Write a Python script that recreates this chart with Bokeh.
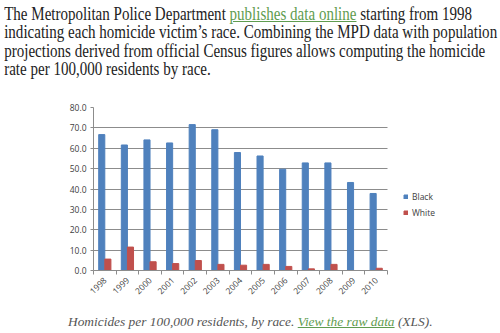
import numpy as np
from bokeh.plotting import figure
from bokeh.models import (Range1d, FixedTicker, Div, Legend, LegendItem, ColumnDataSource,
                          NumeralTickFormatter, Grid)
from bokeh.layouts import column
from bokeh.transform import dodge
from bokeh.embed import file_html
from bokeh.resources import INLINE

years = ["1998", "1999", "2000", "2001", "2002", "2003", "2004",
         "2005", "2006", "2007", "2008", "2009", "2010"]
black = [66.7, 61.6, 64.1, 62.6, 71.6, 69.1, 57.9, 56.2, 49.7, 52.8, 52.8, 43.2, 37.8]
white = [5.6, 11.5, 4.3, 3.4, 4.9, 3.0, 2.6, 3.0, 2.0, 0.8, 3.0, 0.0, 1.1]
y_ticks = [0, 10, 20, 30, 40, 50, 60, 70, 80]

BLUE = "#4F81BD"
RED = "#C0504D"
GRID = "#8c8c8c"
LINK = "#5f9c4f"
CHART_FONT = "Open Sans"
SERIF = "'Liberation Serif', serif"

n = len(years)
pos = np.arange(n) + 0.5
src = ColumnDataSource(dict(x=pos, year=years, black=black, white=white))

intro = Div(
    text=(
        f'<div style="font-family:{SERIF};font-size:18px;line-height:18.4px;'
        'color:#222;padding:5px 0 0 5px;white-space:nowrap;'
        'transform:scaleX(0.835);transform-origin:0 0;">'
        'The Metropolitan Police Department '
        f'<span style="color:{LINK};text-decoration:underline;">publishes data online</span>'
        ' starting from 1998<br>'
        'indicating each homicide victim\u2019s race. Combining the MPD data with population<br>'
        'projections derived from official Census figures allows computing the homicide<br>'
        'rate per 100,000 residents by race.</div>'
    ),
    width=500, height=88, margin=(0, 0, 0, 0),
)

# frame spans the chart area plus the legend area; categories keep their width
left_px, right_px = 93, 5
frame_w = 500 - left_px - right_px
cat_px = 294 / n
p = figure(width=500, height=217, output_backend="svg", toolbar_location=None,
           x_range=Range1d(0, frame_w / cat_px), y_range=Range1d(0, 80),
           min_border_left=left_px, min_border_right=right_px, min_border_top=19, min_border_bottom=35,
           outline_line_color=None, background_fill_color="white", border_fill_color="white")

p.xgrid.grid_line_color = None
if "cross_bounds" in Grid.properties():
    p.ygrid.ticker = FixedTicker(ticks=y_ticks)
    p.ygrid.grid_line_color = GRID
    p.ygrid.cross_bounds = (0, n)
else:
    p.ygrid.grid_line_color = None
    p.segment(x0=0, x1=n, y0=y_ticks, y1=y_ticks, line_color=GRID, line_width=1)

bw = 0.27
rb = p.vbar(x=dodge("x", -bw / 2, range=p.x_range), top="black", width=bw, source=src, color=BLUE)
rw = p.vbar(x=dodge("x", bw / 2, range=p.x_range), top="white", width=bw, source=src, color=RED)

p.yaxis.ticker = FixedTicker(ticks=y_ticks)
p.yaxis.formatter = NumeralTickFormatter(format="0.0")
p.yaxis.axis_line_color = GRID
p.yaxis.major_tick_line_color = GRID
p.yaxis.major_tick_out = 3
p.yaxis.major_tick_in = 0
p.yaxis.minor_tick_line_color = None
p.yaxis.major_label_standoff = 4
p.yaxis.major_label_text_font = CHART_FONT
p.yaxis.major_label_text_font_size = "8.5px"
p.yaxis.major_label_text_color = "#404040"

p.xaxis.bounds = (0, n)
p.xaxis.ticker = FixedTicker(ticks=list(pos), minor_ticks=list(range(n + 1)))
p.xaxis.major_label_overrides = {float(x): y for x, y in zip(pos, years)}
p.xaxis.major_label_orientation = np.pi / 4
p.xaxis.axis_line_color = GRID
p.xaxis.major_tick_line_color = None
p.xaxis.major_tick_out = 2
p.xaxis.major_tick_in = 0
p.xaxis.minor_tick_line_color = GRID
p.xaxis.minor_tick_out = 4
p.xaxis.minor_tick_in = 0
p.xaxis.major_label_standoff = 4
p.xaxis.major_label_text_font = CHART_FONT
p.xaxis.major_label_text_font_size = "8.5px"
p.xaxis.major_label_text_color = "#404040"

legend = Legend(items=[LegendItem(label="Black", renderers=[rb]),
                       LegendItem(label="White", renderers=[rw])],
                location=(310, 52), orientation="vertical",
                glyph_width=5, glyph_height=5, label_height=9, spacing=5,
                padding=0, margin=0, label_standoff=4,
                border_line_color=None, background_fill_alpha=0,
                label_text_font=CHART_FONT, label_text_font_size="8.5px",
                label_text_color="#404040")
p.add_layout(legend, "center")

caption = Div(
    text=(
        f'<div style="font-family:{SERIF};font-style:italic;font-size:13.4px;'
        'line-height:16px;color:#555;padding:9px 0 0 68px;white-space:nowrap;">'
        'Homicides per 100,000 residents, by race. '
        f'<span style="color:{LINK};text-decoration:underline;">View the raw data</span>'
        ' (XLS).</div>'
    ),
    width=500, height=28, margin=(0, 0, 0, 0),
)

layout = column(intro, p, caption, spacing=0, margin=(0, 0, 0, 0))
open("out.html", "w").write(file_html(layout, INLINE))
